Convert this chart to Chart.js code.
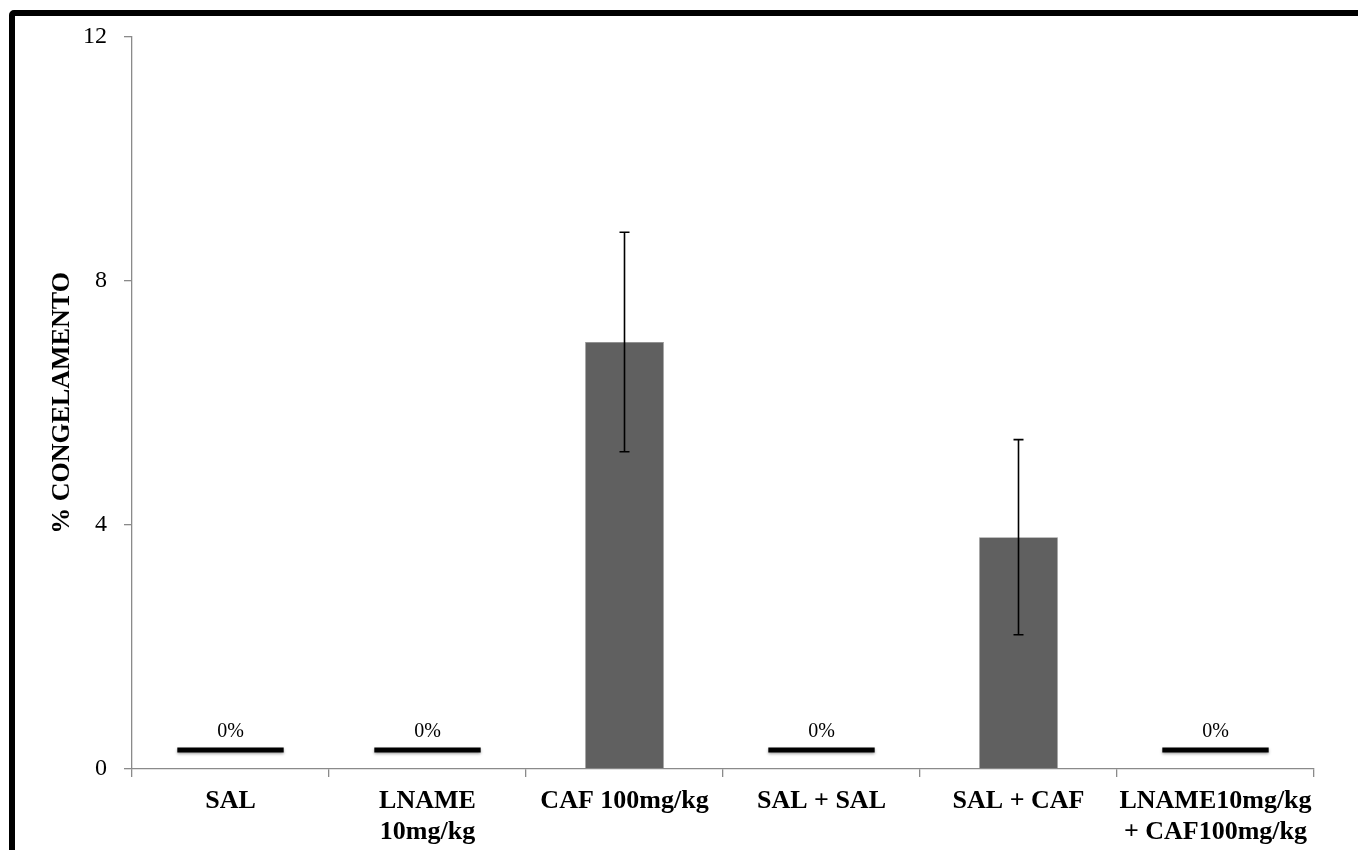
<!DOCTYPE html>
<html>
<head>
<meta charset="utf-8">
<script src="https://cdn.jsdelivr.net/npm/chart.js@4.4.1/dist/chart.umd.min.js"></script>
<style>
  html, body { margin: 0; padding: 0; background: #ffffff; overflow: hidden; }
  #wrap { position: relative; width: 1358px; height: 850px; }
  #frame {
    position: absolute; left: 9px; top: 10px; width: 1400px; height: 900px;
    border: 6px solid #000; border-radius: 5px; pointer-events: none;
    box-sizing: border-box;
  }
  canvas { position: absolute; left: 0; top: 0; }
</style>
</head>
<body>
<div id="wrap">
  <canvas id="chart" width="1358" height="850"></canvas>
  <div id="frame"></div>
</div>
<script>
// Groups tested
const categories = [
  ['SAL'],
  ['LNAME', '10mg/kg'],
  ['CAF 100mg/kg'],
  ['SAL + SAL'],
  ['SAL + CAF'],
  ['LNAME10mg/kg', '+ CAF100mg/kg']
];
// Mean freezing (%) per group and its standard error
const meanFreezing = [0, 0, 7.0, 0, 3.8, 0];
const semFreezing = [0, 0, 1.8, 0, 1.6, 0];
// Y axis ticks
const yTicks = [0, 4, 8, 12];

const serif = "'Liberation Serif', 'Times New Roman', Times, serif";
const axisGray = '#8a8a8a';

// Error bars (mean ± SEM) drawn from the data through the scales
const errorBars = {
  id: 'errorBars',
  afterDatasetsDraw(chart) {
    const { ctx, scales: { x, y } } = chart;
    ctx.save();
    ctx.strokeStyle = '#000';
    ctx.lineWidth = 1.6;
    meanFreezing.forEach((m, i) => {
      const e = semFreezing[i];
      if (!e) return;
      const cx = x.getPixelForValue(i);
      const top = y.getPixelForValue(m + e);
      const bot = y.getPixelForValue(m - e);
      ctx.beginPath();
      ctx.moveTo(cx, top); ctx.lineTo(cx, bot);
      ctx.moveTo(cx - 5, top); ctx.lineTo(cx + 5, top);
      ctx.moveTo(cx - 5, bot); ctx.lineTo(cx + 5, bot);
      ctx.stroke();
    });
    ctx.restore();
  }
};

// Groups with no freezing get a flat marker and a "0%" label
const zeroMarks = {
  id: 'zeroMarks',
  afterDatasetsDraw(chart) {
    const { ctx, scales: { x, y } } = chart;
    const catW = (x.right - x.left) / categories.length;
    ctx.save();
    meanFreezing.forEach((m, i) => {
      if (m !== 0) return;
      const cx = x.getPixelForValue(i);
      const py = y.getPixelForValue(m) - 19;
      const half = catW * 0.27;
      ctx.shadowColor = 'rgba(0,0,0,0.35)';
      ctx.shadowBlur = 3;
      ctx.shadowOffsetY = 1.5;
      ctx.strokeStyle = '#000';
      ctx.lineWidth = 5;
      ctx.beginPath();
      ctx.moveTo(cx - half, py); ctx.lineTo(cx + half, py);
      ctx.stroke();
      ctx.shadowColor = 'transparent';
      ctx.fillStyle = '#000';
      ctx.font = '20px ' + serif;
      ctx.textAlign = 'center';
      ctx.textBaseline = 'middle';
      ctx.fillText(m + '%', cx, py - 18);
    });
    ctx.restore();
  }
};

new Chart(document.getElementById('chart'), {
  type: 'bar',
  data: {
    labels: categories,
    datasets: [{
      data: meanFreezing,
      backgroundColor: '#606060',
      borderColor: '#8c8c8c',
      borderWidth: 0.6,
      categoryPercentage: 1.0,
      barPercentage: 0.4
    }]
  },
  options: {
    responsive: false,
    animation: false,
    layout: { padding: { left: 0, right: 44, top: 37, bottom: 0 } },
    plugins: { legend: { display: false }, tooltip: { enabled: false } },
    scales: {
      x: {
        offset: true,
        afterFit(scale) { scale.height = 81; },
        border: { display: true, color: axisGray, width: 1.3 },
        grid: { offset: true, drawOnChartArea: false, drawTicks: true, tickLength: 8, color: axisGray, lineWidth: 1.3 },
        ticks: {
          color: '#000',
          padding: 8,
          maxRotation: 0,
          autoSkip: false,
          font: { family: serif, size: 26, weight: 'bold', lineHeight: 1.22 }
        }
      },
      y: {
        min: 0,
        max: 12,
        afterFit(scale) { scale.width = 132; },
        afterBuildTicks(scale) { scale.ticks = yTicks.map(v => ({ value: v })); },
        border: { display: true, color: axisGray, width: 1.3 },
        grid: { drawOnChartArea: false, drawTicks: true, tickLength: 8, color: axisGray, lineWidth: 1.3 },
        ticks: {
          color: '#000',
          padding: 17,
          font: { family: serif, size: 24 }
        },
        title: {
          display: true,
          text: '% CONGELAMENTO',
          color: '#000',
          padding: { top: 47, bottom: 0 },
          font: { family: serif, size: 26, weight: 'bold', lineHeight: 1.2 }
        }
      }
    }
  },
  plugins: [errorBars, zeroMarks]
});
</script>
</body>
</html>
